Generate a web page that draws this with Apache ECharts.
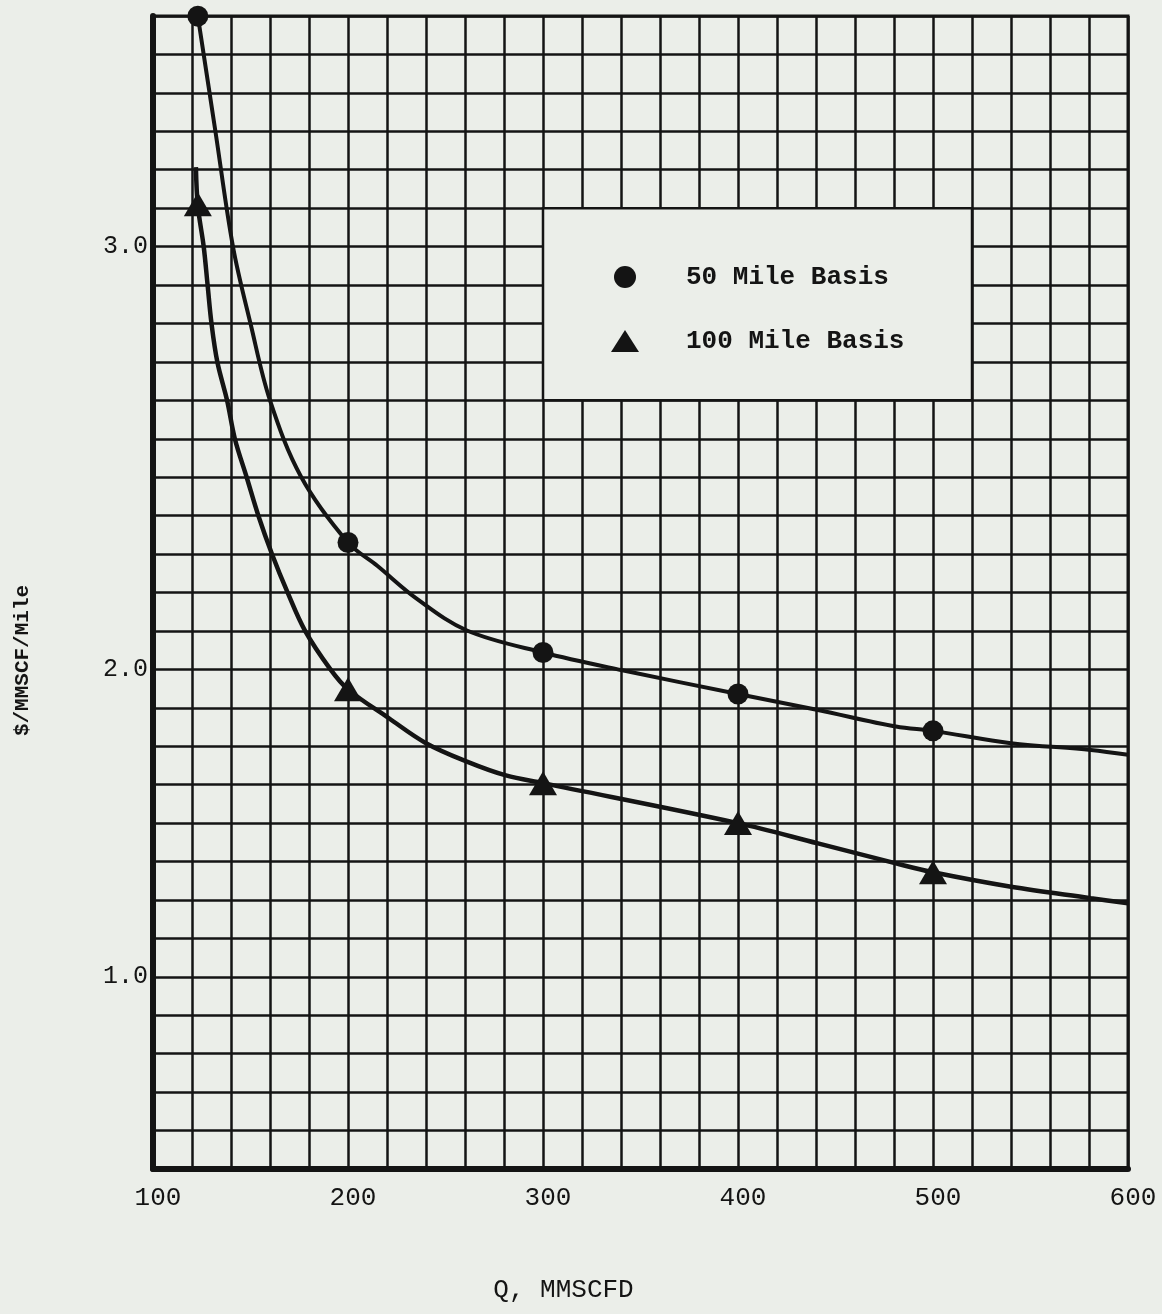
<!DOCTYPE html>
<html>
<head>
<meta charset="utf-8">
<script src="https://cdn.jsdelivr.net/npm/echarts@6/dist/echarts.min.js"></script>
<style>
  html, body { margin: 0; padding: 0; background: #ebeee9; }
  #chart { width: 1162px; height: 1314px; }
</style>
</head>
<body>
<div id="chart"></div>
<script>
// ---- axis ticks ----
const xTickValues = [100, 200, 300, 400, 500, 600];
const yTickLabels = ['1.0', '2.0', '3.0'];
const yTickValues = [1.0, 2.0, 3.0];
const yTickRows = [5, 13, 24];      // paper grid row (from bottom) where each label is printed
const yRowCount = 30;               // paper rows in the plot

// ---- data points (Q, MMSCFD ; $/MMSCF/Mile) ----
const q50 = [123, 200, 300, 400, 500];
const cost50 = [3.545, 2.30, 2.04, 1.92, 1.80];
const q100 = [123, 200, 300, 400, 500];
const cost100 = [3.10, 1.935, 1.63, 1.50, 1.34];

// ---- drawn curves ----
const curve50Q = [123, 132, 141, 150, 160, 176, 200, 215, 235, 261, 300, 340, 400, 441, 481, 500, 540, 581, 600];
const curve50Cost = [3.545, 3.273, 3.0, 2.818, 2.636, 2.455, 2.30, 2.245, 2.168, 2.092, 2.04, 1.998, 1.92, 1.868, 1.814, 1.80, 1.760, 1.738, 1.722];
const curve100Q = [122, 123, 126, 128, 130, 133, 138, 142, 148, 154, 161, 169, 178, 191, 200, 221, 240, 261, 281, 300, 400, 441, 481, 500, 540, 581, 600];
const curve100Cost = [3.188, 3.096, 3.0, 2.909, 2.818, 2.727, 2.636, 2.545, 2.455, 2.364, 2.273, 2.182, 2.091, 2.0, 1.935, 1.841, 1.76, 1.70, 1.655, 1.63, 1.50, 1.434, 1.369, 1.34, 1.293, 1.256, 1.239];

// legend box on the paper (Q range, paper rows)
const legendBoxQ = [300, 520];
const legendBoxRows = [20, 25];

// The printed y labels are not evenly spaced on the paper grid:
// map a $ value onto the paper row using the printed labels (piecewise linear).
function toRow(v) {
  const tv = yTickValues, tr = yTickRows;
  if (v <= tv[0]) return tr[0] * v / tv[0];
  let i = 0;
  for (i = 0; i < tv.length - 1; i++) {
    if (v <= tv[i + 1]) break;
  }
  if (i >= tv.length - 1) i = tv.length - 2;
  const slope = (tr[i + 1] - tr[i]) / (tv[i + 1] - tv[i]);
  return tr[i] + (v - tv[i]) * slope;
}
const pairs = (xs, ys) => xs.map((x, i) => [x, toRow(ys[i])]);

const INK = '#141414';
const BG = '#ebeee9';
const FONT = '"Liberation Mono", "DejaVu Sans Mono", monospace';

const chart = echarts.init(document.getElementById('chart'));
chart.setOption({
  backgroundColor: BG,
  animation: false,
  grid: {
    left: 153, right: 34, top: 16, bottom: 145,
    show: true, borderColor: INK, borderWidth: 3, backgroundColor: BG
  },
  legend: {
    orient: 'vertical',
    left: 606, top: 259,
    itemWidth: 28, itemHeight: 22, itemGap: 38,
    selectedMode: false,
    data: [
      { name: '50 Mile Basis', icon: 'circle', itemStyle: { color: INK, opacity: 1 } },
      { name: '100 Mile Basis', icon: 'triangle', itemStyle: { color: INK, opacity: 1 } }
    ],
    textStyle: {
      fontFamily: FONT, fontSize: 26, fontWeight: 'bold', color: INK,
      lineHeight: 26, padding: [0, 0, 0, 42]
    }
  },
  xAxis: {
    type: 'value', min: 100, max: 600, interval: 100,
    name: 'Q, MMSCFD', nameLocation: 'middle', nameGap: 108,
    nameTextStyle: { fontFamily: FONT, fontSize: 26, color: INK, padding: [0, 154, 0, 0] },
    axisLine: { show: true, lineStyle: { color: INK, width: 6 } },
    axisTick: { show: false },
    axisLabel: {
      margin: 16, fontFamily: FONT, fontSize: 26, color: INK, padding: [0, 0, 0, 10],
      formatter: v => (xTickValues.indexOf(v) >= 0 ? String(v) : '')
    },
    splitLine: { show: true, lineStyle: { color: INK, width: 2.5 } },
    minorTick: { show: false, splitNumber: 5 },
    minorSplitLine: { show: true, lineStyle: { color: INK, width: 2.5 } }
  },
  yAxis: {
    type: 'value', min: 0, max: yRowCount, interval: 1,
    name: '$/MMSCF/Mile', nameLocation: 'middle', nameGap: 120,
    nameTextStyle: { fontFamily: FONT, fontSize: 21, fontWeight: 'bold', color: INK, padding: [0, 136, 0, 0] },
    axisLine: { show: true, lineStyle: { color: INK, width: 6 } },
    axisTick: { show: false },
    axisLabel: {
      margin: 5, fontFamily: FONT, fontSize: 25, color: INK,
      formatter: v => {
        const i = yTickRows.indexOf(v);
        return i >= 0 ? yTickLabels[i] : '';
      }
    },
    splitLine: { show: true, lineStyle: { color: INK, width: 2.5 } }
  },
  series: [
    {
      name: '50 Mile Curve', type: 'line', data: pairs(curve50Q, curve50Cost),
      showSymbol: false, smooth: 0.35,
      lineStyle: { color: INK, width: 4 }, z: 3
    },
    {
      name: '100 Mile Curve', type: 'line', data: pairs(curve100Q, curve100Cost),
      showSymbol: false, smooth: 0.35,
      lineStyle: { color: INK, width: 4.5 }, z: 3
    },
    {
      name: '50 Mile Basis', type: 'scatter', data: pairs(q50, cost50),
      symbol: 'circle', symbolSize: 21, itemStyle: { color: INK, opacity: 1 }, z: 4,
      markArea: {
        silent: true,
        itemStyle: { color: BG, borderColor: INK, borderWidth: 2.5, opacity: 1 },
        data: [[
          { coord: [legendBoxQ[0], legendBoxRows[0]] },
          { coord: [legendBoxQ[1], legendBoxRows[1]] }
        ]]
      }
    },
    {
      name: '100 Mile Basis', type: 'scatter', data: pairs(q100, cost100),
      symbol: 'triangle', symbolSize: [28, 24], itemStyle: { color: INK, opacity: 1 }, z: 4
    }
  ]
});
</script>
</body>
</html>
